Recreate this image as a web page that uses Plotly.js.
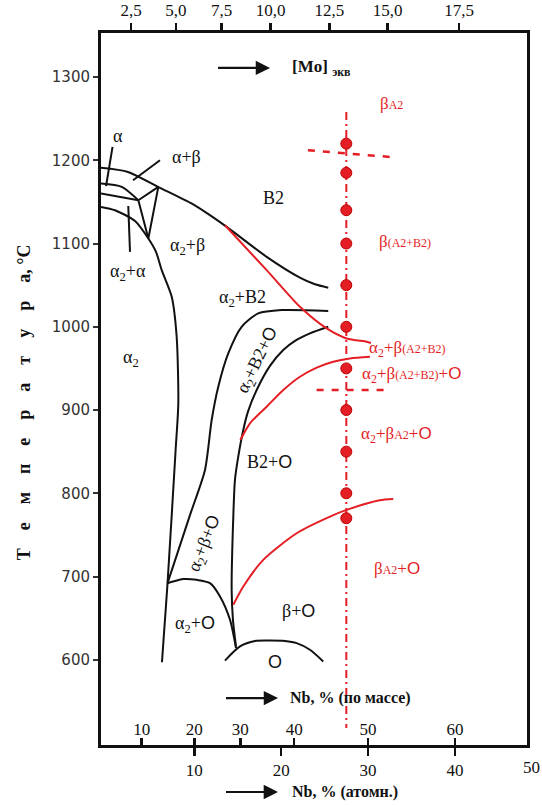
<!DOCTYPE html>
<html>
<head>
<meta charset="utf-8">
<script src="https://cdn.plot.ly/plotly-3.0.1.min.js"></script>
<style>html,body{margin:0;padding:0;background:#fff;}#chart{width:542px;height:805px;}</style>
</head>
<body>
<div id="chart"></div>
<script>
// ---------- axis tick data ----------
const T_TICKS = [500, 600, 700, 800, 900, 1000, 1100, 1200, 1300];
const AT_TICKS = [10, 20, 30, 40];
const AT_LABELS = ['10', '20', '30', '40'];
const MASS_LABELS = ['10', '20', '30', '40', '50', '60'];
const MASS_AT = [3.95, 10, 15.3, 21.5, 30, 40];          // at.% equivalent of mass-% ticks
const MO_LABELS = ['2,5', '5,0', '7,5', '10,0', '12,5', '15,0', '17,5'];
const MO_AT = [2.72, 7.89, 13.15, 18.79, 25.54, 32.26, 40.49]; // at.% equivalent of [Mo]eq ticks

// ---------- phase boundaries (x = Nb at.%, y = T °C) ----------
const betaTransusX = [-0.74, 2.37, 5.82, 9.51, 11.23, 13.73, 18.33, 22.16, 23.89, 25.42];
const betaTransusT = [1191, 1186, 1168, 1149, 1138, 1120, 1084, 1059, 1051, 1047];

const alphaUpperX = [-0.74, 1.65, 3.56];
const alphaUpperT = [1172, 1168, 1152];
const alphaLowerX = [-0.74, 3.56];
const alphaLowerT = [1160, 1152];
const triangleX = [3.56, 5.86, 4.71, 3.56];
const triangleT = [1152, 1168, 1106, 1152];

const alpha2X = [-0.74, 0.87, 3.18, 4.71, 5.59, 6.25, 7.40, 7.97, 8.16, 7.85, 6.92, 6.46, 6.28];
const alpha2T = [1144, 1140, 1127, 1106, 1090, 1068, 1036, 988, 908, 852, 692, 624, 597];

const oLeftX = [6.92, 9.51, 11.23, 12.0, 12.76, 13.91, 15.45, 17.36, 20.06, 25.42];
const oLeftT = [692, 774, 828, 888, 928, 968, 1000, 1016, 1020, 1019];

const oRightX = [25.42, 23.31, 21.59, 20.24, 18.71, 17.18, 16.18, 15.64, 15.06, 14.68, 14.49, 14.30, 14.45, 14.80];
const oRightT = [1000, 992, 983, 972, 953, 924, 898, 876, 844, 816, 772, 684, 648, 616];

const a2oDomeX = [6.92, 7.58, 8.73, 10.28, 11.81, 12.96, 14.11, 14.80];
const a2oDomeT = [692, 694, 697, 696, 692, 676, 648, 614];

const oDomeX = [13.53, 15.26, 16.99, 18.71, 20.44, 21.78, 23.31, 24.84];
const oDomeT = [599, 616, 622.5, 623, 622.5, 620, 612, 598];

// pointer lines for small regions
const ptrAlphaX = [0.59, -0.16];   const ptrAlphaT = [1216, 1169];
const ptrAlphaBetaX = [6.05, 2.95]; const ptrAlphaBetaT = [1200, 1176];
const ptrA2AX = [2.40, 2.60];       const ptrA2AT = [1145, 1090];

// red boundaries (A2 / B2 ordering and O-phase)
const orderX = [13.53, 18.33, 22.16, 25.24, 27.54, 29.84, 30.33];
const orderT = [1122, 1068, 1024, 998, 986, 982, 980.5];
const redMidX = [15.3, 16.41, 18.33, 20.24, 22.16, 24.09, 26.0, 27.92, 30.22];
const redMidT = [864, 884, 904, 924, 940, 951, 958, 962, 964];
const redLowX = [14.49, 15.64, 17.94, 21.78, 25.62, 27.54, 31.34, 32.9];
const redLowT = [666, 688, 720, 752, 772, 780, 791.5, 793];

// alloy composition line and experiment points
const alloyNb = 27.5;
const alloyLineT = [1258, 518];
const pointsT = [1220, 1185, 1140, 1100, 1050, 1000, 950, 900, 850, 800, 770];
const dash1X = [23.08, 32.52]; const dash1T = [1212, 1204];
const dash2X = [24.08, 31.94]; const dash2T = [924, 924];

// region labels
const OO = '<span style="font-family:Liberation Sans">O</span>';
const blackLabels = [
  ['α', 1.25, 1229],
  ['α+β', 9.13, 1204],
  ['B2', 19.06, 1155],
  ['α<sub>2</sub>+β', 9.16, 1096],
  ['α<sub>2</sub>+α', 2.37, 1065],
  ['α<sub>2</sub>+B2', 15.6, 1034],
  ['α<sub>2</sub>', 2.72, 962],
  ['B2+' + OO, 18.7, 838],
  ['α<sub>2</sub>+' + OO, 10.08, 642],
  ['β+' + OO, 22.05, 659],
  [OO, 19.3, 597]
];
const rotLabels = [
  ['α<sub>2</sub>+B2+' + OO, 17.3, 960, -64],
  ['α<sub>2</sub>+β+' + OO, 11.23, 740, -68]
];
const SM = (s) => '<span style="font-size:12px">' + s + '</span>';
const redLabels = [
  ['β' + SM('A2'), 31.14, 1268],
  ['β' + SM('(A2+B2)'), 31.02, 1103],
  ['α<sub>2</sub>+β' + SM('(A2+B2)'), 29.84, 973],
  ['α<sub>2</sub>+β' + SM('(A2+B2)') + '+' + OO, 29.07, 942],
  ['α<sub>2</sub>+β' + SM('A2') + '+' + OO, 28.99, 870],
  ['β' + SM('A2') + '+' + OO, 30.41, 710]
];

const BLACK = '#111111';
const RED = '#e31e24';

function curve(x, y, color, shape) {
  return {x: x, y: y, type: 'scatter', mode: 'lines', hoverinfo: 'skip',
    line: {color: color, width: 2, shape: shape || 'spline', smoothing: 0.7}};
}

const traces = [
  curve(betaTransusX, betaTransusT, BLACK),
  curve(alphaUpperX, alphaUpperT, BLACK),
  curve(alphaLowerX, alphaLowerT, BLACK, 'linear'),
  curve(triangleX, triangleT, BLACK, 'linear'),
  curve(alpha2X, alpha2T, BLACK),
  curve(oLeftX, oLeftT, BLACK),
  curve(oRightX, oRightT, BLACK),
  curve(a2oDomeX, a2oDomeT, BLACK),
  curve(oDomeX, oDomeT, BLACK),
  curve(ptrAlphaX, ptrAlphaT, BLACK, 'linear'),
  curve(ptrAlphaBetaX, ptrAlphaBetaT, BLACK, 'linear'),
  curve(ptrA2AX, ptrA2AT, BLACK, 'linear'),
  curve(orderX, orderT, RED),
  curve(redMidX, redMidT, RED),
  curve(redLowX, redLowT, RED),
  {x: [alloyNb, alloyNb], y: alloyLineT, type: 'scatter', mode: 'lines', hoverinfo: 'skip',
   line: {color: RED, width: 2, dash: '8px,4px,2px,4px'}},
  {x: dash1X, y: dash1T, type: 'scatter', mode: 'lines', hoverinfo: 'skip',
   line: {color: RED, width: 2.5, dash: '7px,8px'}},
  {x: dash2X, y: dash2T, type: 'scatter', mode: 'lines', hoverinfo: 'skip',
   line: {color: RED, width: 2.5, dash: '7px,8px'}},
  {x: pointsT.map(() => alloyNb), y: pointsT, type: 'scatter', mode: 'markers', hoverinfo: 'skip',
   marker: {color: RED, size: 11, line: {color: '#c00000', width: 1}}},
  {x: [], y: [], xaxis: 'x2', type: 'scatter', showlegend: false},
  {x: [], y: [], xaxis: 'x3', type: 'scatter', showlegend: false}
];

const annotations = [];
blackLabels.forEach(l => annotations.push({x: l[1], y: l[2], xref: 'x', yref: 'y', text: l[0],
  xanchor: 'center', yanchor: 'middle',
  showarrow: false, font: {family: 'Liberation Serif', size: 18, color: BLACK}}));
rotLabels.forEach(l => annotations.push({x: l[1], y: l[2], xref: 'x', yref: 'y', text: l[0], textangle: l[3],
  xanchor: 'center', yanchor: 'middle',
  showarrow: false, font: {family: 'Liberation Serif', size: 18, color: BLACK}}));
redLabels.forEach(l => annotations.push({x: l[1], y: l[2], xref: 'x', yref: 'y', text: l[0],
  xanchor: 'left', yanchor: 'middle',
  showarrow: false, font: {family: 'Liberation Serif', size: 17, color: RED}}));

// arrows and axis captions
const arrowStyle = {showarrow: true, arrowhead: 2, arrowsize: 1.3, arrowwidth: 2.2, arrowcolor: BLACK, ax: -55, ay: 0, text: ' '};
annotations.push(Object.assign({x: 18.72, y: 1311, xref: 'x', yref: 'y'}, arrowStyle));
annotations.push({x: 21.0, y: 1311, xref: 'x', yref: 'y', xanchor: 'left', yanchor: 'middle', showarrow: false,
  text: '<b>[Mo]</b> <sub><b>экв</b></sub>', font: {family: 'Liberation Serif', size: 17, color: BLACK}});
annotations.push(Object.assign({x: 19.64, y: 554, xref: 'x', yref: 'y'}, arrowStyle));
annotations.push({x: 20.79, y: 554, xref: 'x', yref: 'y', xanchor: 'left', yanchor: 'middle', showarrow: false,
  text: '<b>Nb, % (по массе)</b>', font: {family: 'Liberation Serif', size: 16, color: BLACK}});
annotations.push(Object.assign({x: 0.4155, y: -0.066, xref: 'paper', yref: 'paper'}, arrowStyle));
annotations.push({x: 0.4437, y: -0.066, xref: 'paper', yref: 'paper', xanchor: 'left', yanchor: 'middle', showarrow: false,
  text: '<b>Nb, % (атомн.)</b>', font: {family: 'Liberation Serif', size: 16, color: BLACK}});
annotations.push({x: 1.011, y: -0.031, xref: 'paper', yref: 'paper', xanchor: 'center', yanchor: 'middle', showarrow: false,
  text: '50', font: {family: 'Liberation Serif', size: 17, color: BLACK}});
annotations.push({x: -0.182, y: 0.482, xref: 'paper', yref: 'paper', xanchor: 'center', yanchor: 'middle',
  showarrow: false, textangle: -90,
  text: '<b>Т\u2003е\u2003м\u2003п\u2003е\u2003р\u2003а\u2003т\u2003у\u2003р\u2003а, °C</b>',
  font: {family: 'Liberation Serif', size: 18, color: BLACK}});

const XR = [-0.74, 48.3];
const serif17 = {family: 'Liberation Serif', size: 17, color: BLACK};
const layout = {
  width: 542, height: 805,
  margin: {l: 101, r: 15, t: 33, b: 60},
  paper_bgcolor: '#ffffff', plot_bgcolor: '#ffffff',
  showlegend: false, hovermode: false,
  xaxis: {range: XR, tickmode: 'array', tickvals: AT_TICKS, ticktext: AT_LABELS,
    ticks: 'outside', ticklen: 8, tickwidth: 2.5, tickcolor: BLACK,
    showline: true, linewidth: 3, linecolor: BLACK, showgrid: false, zeroline: false,
    tickfont: serif17},
  xaxis2: {range: XR, overlaying: 'x', side: 'top', anchor: 'y', tickmode: 'array',
    tickvals: MO_AT, ticktext: MO_LABELS, ticks: 'outside', ticklen: 7, tickwidth: 2.5, tickcolor: BLACK,
    showline: true, linewidth: 3, linecolor: BLACK, showgrid: false, zeroline: false, tickfont: serif17},
  xaxis3: {range: XR, overlaying: 'x', side: 'bottom', anchor: 'y', tickmode: 'array',
    tickvals: MASS_AT, ticktext: MASS_LABELS, ticks: 'inside', ticklen: 7, tickwidth: 2.5, tickcolor: BLACK,
    ticklabelposition: 'inside', showline: false, showgrid: false, zeroline: false, tickfont: serif17},
  yaxis: {range: [497.6, 1352.9], tickmode: 'array', tickvals: T_TICKS,
    ticks: 'outside', ticklen: 5, tickwidth: 2, tickcolor: '#333',
    showline: true, linewidth: 3, linecolor: BLACK, mirror: true, showgrid: false, zeroline: false,
    tickfont: {family: 'DejaVu Sans', size: 15, color: '#333'}},
  annotations: annotations
};

Plotly.newPlot('chart', traces, layout, {staticPlot: true, displayModeBar: false});
</script>
</body>
</html>
